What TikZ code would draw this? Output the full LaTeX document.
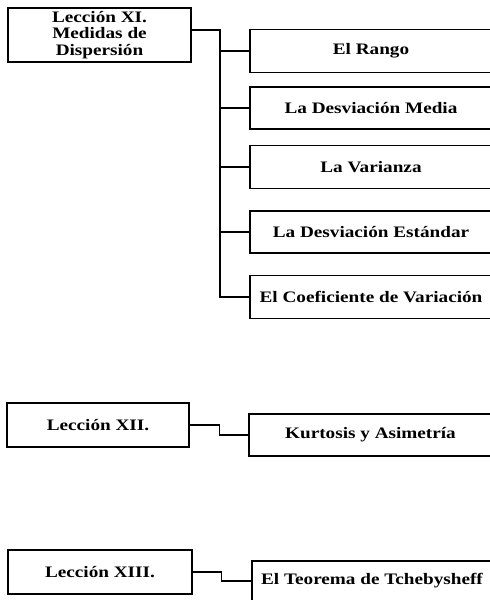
\documentclass[tikz,border=0pt]{standalone}
\usepackage{fontspec}
\setmainfont{Liberation Serif}[FakeStretch=1.2]
\begin{document}
\begin{tikzpicture}[x=1pt,y=-1pt,
  box/.style={draw,line width=1.3pt,inner sep=0pt,align=center,
    font=\bfseries\fontsize{16}{16.5}\selectfont},
  lesson/.style={box,minimum width=183pt,minimum height=43pt},
  topic/.style={box,minimum width=242pt,minimum height=42pt},
  link/.style={line width=1.3pt}]
\useasboundingbox (0,0) rectangle (490,600);
\clip (0,0) rectangle (490,600);
\node[lesson,minimum height=54pt] (XI) at (99.5,35) {Lección XI.\\Medidas de\\Dispersión};
\node[topic,minimum height=43pt] (R1) at (371,51) {El Rango};
\node[topic] (R2) at (371,108) {La Desviación Media};
\node[topic,minimum height=43pt] (R3) at (371,167) {La Varianza};
\node[topic] (R4) at (371,232) {La Desviación Estándar};
\node[topic,minimum height=43pt] (R5) at (371,297) {El Coeficiente de Variación};
\coordinate (t) at (220,0);
\draw[link] ([yshift=5pt]XI.east) -| (t |- R5.west) -- (R5.west);
\foreach \r in {R1,R2,R3,R4}{\draw[link] (t |- \r.west) -- (\r.west);}
\node[lesson,minimum width=182pt,minimum height=44pt] (XII) at (98,425) {Lección XII.};
\node[topic,minimum width=243pt] (K) at (370.5,435) {Kurtosis y Asimetría};
\draw[link] (XII.east) -- ++(30,0) |- (K.west);
\node[lesson,minimum width=184pt,minimum height=44pt] (XIII) at (100,572) {Lección XIII.};
\node[topic,minimum width=240pt,minimum height=40pt] (T) at (372,581) {El Teorema de Tchebysheff};
\draw[link] (XIII.east) -- ++(29,0) |- (T.west);
\end{tikzpicture}
\end{document}
